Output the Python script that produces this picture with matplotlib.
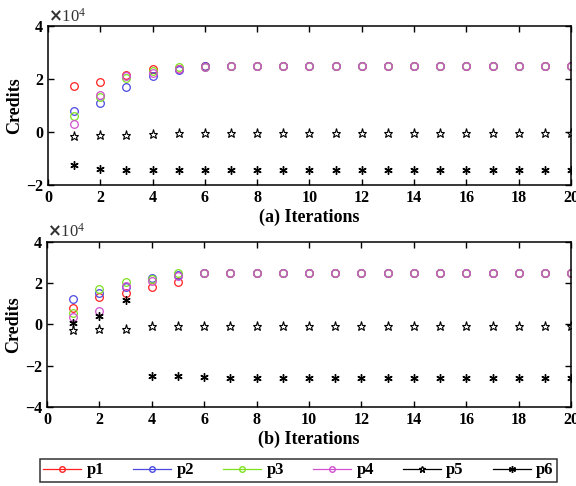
import numpy as np
import matplotlib.pyplot as plt
from matplotlib.lines import Line2D

plt.rcParams['font.family'] = 'Liberation Serif'
plt.rcParams['font.weight'] = 'bold'

iters = list(range(1, 21))
names = ['p1', 'p2', 'p3', 'p4', 'p5', 'p6']

# credits in units of 1e4
a_p1 = [1.75, 1.91, 2.16, 2.39, 2.38, 2.49, 2.50, 2.50, 2.50, 2.50, 2.50, 2.50, 2.50, 2.50, 2.50, 2.50, 2.50, 2.50, 2.50, 2.50]
a_p2 = [0.80, 1.12, 1.72, 2.12, 2.33, 2.50, 2.50, 2.50, 2.50, 2.50, 2.50, 2.50, 2.50, 2.50, 2.50, 2.50, 2.50, 2.50, 2.50, 2.50]
a_p3 = [0.62, 1.31, 2.04, 2.30, 2.45, 2.48, 2.50, 2.50, 2.50, 2.50, 2.50, 2.50, 2.50, 2.50, 2.50, 2.50, 2.50, 2.50, 2.50, 2.50]
a_p4 = [0.30, 1.41, 2.11, 2.25, 2.40, 2.46, 2.50, 2.50, 2.50, 2.50, 2.50, 2.50, 2.50, 2.50, 2.50, 2.50, 2.50, 2.50, 2.50, 2.50]
a_p5 = [-0.14, -0.09, -0.11, -0.05, -0.03, -0.03, -0.03, -0.04, -0.04, -0.04, -0.04, -0.04, -0.04, -0.04, -0.04, -0.04, -0.04, -0.04, -0.04, -0.04]
a_p6 = [-1.22, -1.40, -1.41, -1.42, -1.42, -1.42, -1.42, -1.42, -1.42, -1.42, -1.42, -1.42, -1.42, -1.42, -1.42, -1.42, -1.42, -1.42, -1.42, -1.42]

b_p1 = [0.81, 1.33, 1.52, 1.81, 2.06, 2.48, 2.48, 2.49, 2.49, 2.49, 2.49, 2.49, 2.49, 2.49, 2.49, 2.49, 2.49, 2.49, 2.49, 2.49]
b_p2 = [1.25, 1.52, 1.80, 2.25, 2.40, 2.49, 2.48, 2.49, 2.49, 2.49, 2.49, 2.49, 2.49, 2.49, 2.49, 2.49, 2.49, 2.49, 2.49, 2.49]
b_p3 = [0.58, 1.72, 2.06, 2.20, 2.49, 2.48, 2.49, 2.49, 2.49, 2.49, 2.49, 2.49, 2.49, 2.49, 2.49, 2.49, 2.49, 2.49, 2.49, 2.49]
b_p4 = [0.36, 0.66, 1.85, 2.09, 2.36, 2.48, 2.48, 2.49, 2.49, 2.49, 2.49, 2.49, 2.49, 2.49, 2.49, 2.49, 2.49, 2.49, 2.49, 2.49]
b_p5 = [-0.26, -0.21, -0.21, -0.06, -0.06, -0.06, -0.06, -0.06, -0.06, -0.06, -0.06, -0.06, -0.06, -0.06, -0.06, -0.06, -0.06, -0.06, -0.06, -0.06]
b_p6 = [0.07, 0.39, 1.17, -2.52, -2.52, -2.56, -2.58, -2.58, -2.59, -2.59, -2.59, -2.59, -2.59, -2.59, -2.59, -2.59, -2.59, -2.59, -2.59, -2.59]

colors = ['#ff2020', '#4a4ae0', '#7ee020', '#d050d0', 'black', 'black']
markers = ['o', 'o', 'o', 'o', '*', 'ast']

fig = plt.figure(figsize=(5.76, 4.86), dpi=100)
ax1 = fig.add_axes([0.0833, 0.619, 0.908, 0.327])
ax2 = fig.add_axes([0.0816, 0.1626, 0.910, 0.3395])


def draw(ax, series, ylim, yticks, label):
    for vals, c, m in zip(series, colors, markers):
        if m == 'o':
            ax.plot(iters, vals, ls='none', marker=m, ms=5.5, mfc='none', mec=c, mew=0.9)
        elif m == '*':
            ax.plot(iters, vals, ls='none', marker=m, ms=6.5, mfc='white', mec=c, mew=0.8)
        else:
            ax.plot(iters, vals, ls='none', marker=(6, 2, 0), ms=6, color=c, mew=1.0)
    ax.set_xlim(0, 20)
    ax.set_ylim(*ylim)
    ax.set_xticks(range(0, 21, 2))
    ax.set_yticks(yticks)
    ax.tick_params(direction='in', top=True, right=True, labelsize=11.5, length=4, width=1)
    for s in ax.spines.values():
        s.set_linewidth(1.1)
    ax.set_ylabel('Credits', fontsize=13, fontweight='bold', labelpad=2)
    ax.set_xlabel(label, fontsize=13, fontweight='bold', labelpad=2)
    ax.text(0.0, 1.03, r'$\times\mathregular{10^4}$', transform=ax.transAxes,
            fontsize=12, fontweight='normal', color='#333333')


draw(ax1, [a_p1, a_p2, a_p3, a_p4, a_p5, a_p6], (-2, 4), [-2, 0, 2, 4], '(a) Iterations')
draw(ax2, [b_p1, b_p2, b_p3, b_p4, b_p5, b_p6], (-4, 4), [-4, -2, 0, 2, 4], '(b) Iterations')

handles = []
for n, c, m in zip(names, colors, markers):
    if m == 'o':
        h = Line2D([], [], color=c, lw=0.9, marker='o', ms=4, mfc='none', mec=c)
    elif m == '*':
        h = Line2D([], [], color=c, lw=0.9, marker='*', ms=5, mfc='white', mec=c)
    else:
        h = Line2D([], [], color=c, lw=0.9, marker=(6, 2, 0), ms=5, mec=c)
    handles.append(h)

leg = fig.legend(handles, names, loc='center', bbox_to_anchor=(0.518, 0.032), ncol=6,
                 frameon=True, fancybox=False, edgecolor='black', fontsize=12,
                 handlelength=2.3, columnspacing=1.75, handletextpad=0.3,
                 borderpad=0.2, borderaxespad=0)
leg.get_frame().set_linewidth(1.1)

fig.savefig('out.png', dpi=100)
